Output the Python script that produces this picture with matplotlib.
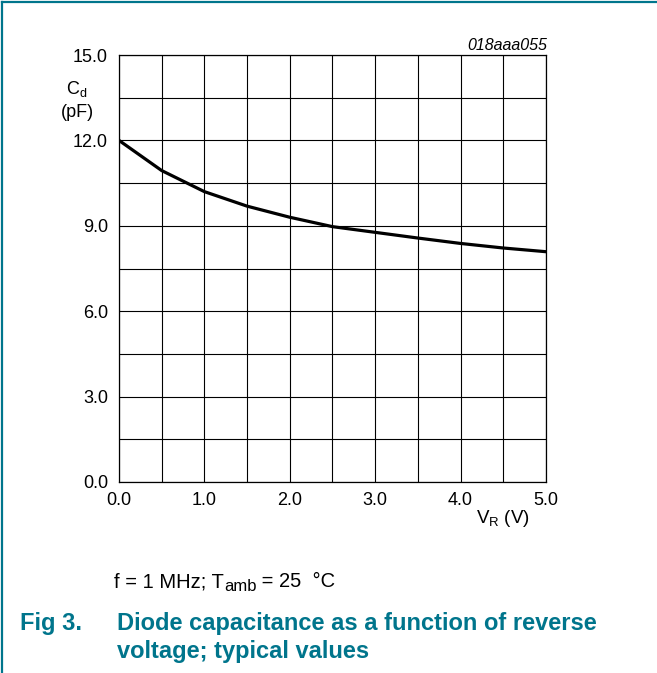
import matplotlib
matplotlib.use("Agg")
import matplotlib.pyplot as plt
from matplotlib.lines import Line2D

plt.rcParams['font.family'] = ['Liberation Sans', 'DejaVu Sans']
plt.rcParams['mathtext.fontset'] = 'custom'
plt.rcParams['mathtext.rm'] = 'Liberation Sans'
plt.rcParams['mathtext.it'] = 'Liberation Sans:italic'

# Data
vr = [0.0, 0.5, 1.0, 1.5, 2.0, 2.5, 3.0, 3.5, 4.0, 4.5, 5.0]
cd = [12.0, 10.94, 10.20, 9.69, 9.30, 8.97, 8.77, 8.57, 8.38, 8.22, 8.09]
xticks = [0.0, 1.0, 2.0, 3.0, 4.0, 5.0]
yticks = [0.0, 3.0, 6.0, 9.0, 12.0, 15.0]
xminor = [0.5, 1.5, 2.5, 3.5, 4.5]
yminor = [1.5, 4.5, 7.5, 10.5, 13.5]

W, H = 657, 673
teal = '#00758c'

fig = plt.figure(figsize=(W / 100, H / 100), dpi=100)

def fx(px):
    return px / W

def fy(py):
    return 1 - py / H

ax = fig.add_axes([fx(119), fy(482), fx(546) - fx(119), fy(55) - fy(482)])
ax.plot(vr, cd, color='black', lw=2.3, solid_joinstyle='round', zorder=3)
ax.set_xlim(0, 5)
ax.set_ylim(0, 15)
ax.set_xticks(xticks)
ax.set_xticklabels([f"{v:.1f}" for v in xticks])
ax.set_yticks(yticks)
ax.set_yticklabels([f"{v:.1f}" for v in yticks])
ax.set_xticks(xminor, minor=True)
ax.set_yticks(yminor, minor=True)
ax.grid(True, which='both', color='black', lw=0.8)
ax.tick_params(which='both', length=0)
ax.tick_params(axis='y', pad=8, labelsize=13)
ax.tick_params(axis='x', pad=7, labelsize=13)
for s in ax.spines.values():
    s.set_linewidth(0.9)
ax.set_axisbelow(True)

# Axis labels
fig.text(fx(77), fy(94), r'C$_\mathrm{d}$', ha='center', va='baseline', fontsize=13)
fig.text(fx(77), fy(117), '(pF)', ha='center', va='baseline', fontsize=13)
fig.text(fx(530), fy(523), r'V$_\mathrm{R}$ (V)', ha='right', va='baseline', fontsize=13.5)

# Figure id
fig.text(fx(547), fy(50), '018aaa055', ha='right', va='baseline', fontsize=11.5, style='italic')

# Footer conditions line, built from pieces so the subscript can be sized freely
renderer = fig.canvas.get_renderer()
pieces = [('f = 1 MHz; T', 14.5, 0), ('amb', 12, 4), (' = 25  \u00b0C', 14.5, 0)]
x = 114
for txt, size, drop in pieces:
    t = fig.text(fx(x), fy(587 + drop), txt, ha='left', va='baseline', fontsize=size)
    x += t.get_window_extent(renderer).width

fig.text(fx(20), fy(630), 'Fig 3.', ha='left', va='baseline', fontsize=17, fontweight='bold', color=teal)
fig.text(fx(117), fy(630), 'Diode capacitance as a function of reverse', ha='left', va='baseline',
         fontsize=17, fontweight='bold', color=teal)
fig.text(fx(117), fy(658), 'voltage; typical values', ha='left', va='baseline',
         fontsize=17, fontweight='bold', color=teal)

# Frame lines (top and left)
fig.add_artist(Line2D([fx(2), 1], [fy(2), fy(2)], color=teal, lw=1.6, transform=fig.transFigure))
fig.add_artist(Line2D([fx(2), fx(2)], [fy(2), 0], color=teal, lw=1.6, transform=fig.transFigure))

fig.savefig('out.png', dpi=100)
